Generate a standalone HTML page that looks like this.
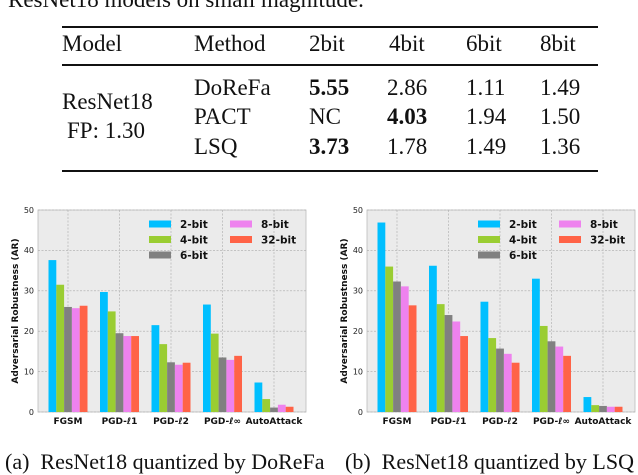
<!DOCTYPE html>
<html><head><meta charset="utf-8">
<style>
body{margin:0;width:638px;height:458px;overflow:hidden;background:#fff;font-family:"Liberation Serif",serif;}
.t{position:absolute;font-size:23px;color:#111;white-space:nowrap;line-height:26px;}
.rule{position:absolute;left:62px;width:536px;background:#111;}
</style></head><body>
<div style="position:relative;width:638px;height:458px;">
<div class="t" style="left:8px;top:-13px;">ResNet18 models on small magnitude.</div>
<div class="rule" style="top:26px;height:2px;"></div>
<div class="rule" style="top:64px;height:1.5px;"></div>
<div class="rule" style="top:170px;height:2px;"></div>
<div>
<div class="t" style="left:62px;top:31px;">Model</div>
<div class="t" style="left:194px;top:31px;">Method</div>
<div class="t" style="left:309px;top:31px;">2bit</div>
<div class="t" style="left:389px;top:31px;">4bit</div>
<div class="t" style="left:466px;top:31px;">6bit</div>
<div class="t" style="left:540px;top:31px;">8bit</div>
<div class="t" style="left:62px;top:89px;">ResNet18</div>
<div class="t" style="left:67px;top:118px;">FP: 1.30</div>
<div class="t" style="left:194px;top:75px;">DoReFa</div>
<div class="t" style="left:194px;top:104px;">PACT</div>
<div class="t" style="left:194px;top:134px;">LSQ</div>
<div class="t" style="left:309px;top:75px;font-weight:bold">5.55</div>
<div class="t" style="left:387px;top:75px;">2.86</div>
<div class="t" style="left:466px;top:75px;">1.11</div>
<div class="t" style="left:540px;top:75px;">1.49</div>
<div class="t" style="left:309px;top:104px;">NC</div>
<div class="t" style="left:387px;top:104px;font-weight:bold">4.03</div>
<div class="t" style="left:466px;top:104px;">1.94</div>
<div class="t" style="left:540px;top:104px;">1.50</div>
<div class="t" style="left:309px;top:134px;font-weight:bold">3.73</div>
<div class="t" style="left:387px;top:134px;">1.78</div>
<div class="t" style="left:466px;top:134px;">1.49</div>
<div class="t" style="left:540px;top:134px;">1.36</div>
</div>
<svg id="charts" width="638" height="458" style="position:absolute;left:0;top:0"></svg>
<div class="t" style="left:5px;top:449px;font-size:22px;">(a)&nbsp; ResNet18 quantized by DoReFa</div>
<div class="t" style="left:345px;top:449px;font-size:22px;">(b)&nbsp; ResNet18 quantized by LSQ</div>
</div>
<script>
const categories=["FGSM","PGD-ℓ1","PGD-ℓ2","PGD-ℓ∞","AutoAttack"];
const seriesNames=["2-bit","4-bit","6-bit","8-bit","32-bit"];
const colors=["#00bfff","#9acd32","#808080","#ee82ee","#ff6347"];
const yTicks=[0,10,20,30,40,50];
const doreFa2=[37.6,29.7,21.5,26.6,7.3];
const doreFa4=[31.5,24.9,16.8,19.4,3.2];
const doreFa6=[26.0,19.5,12.3,13.5,1.1];
const doreFa8=[25.7,18.8,11.7,12.9,1.8];
const doreFa32=[26.3,18.8,12.2,13.9,1.3];
const lsq2=[46.9,36.2,27.3,33.0,3.7];
const lsq4=[36.0,26.7,18.3,21.3,1.7];
const lsq6=[32.3,24.0,15.7,17.5,1.5];
const lsq8=[31.1,22.4,14.4,16.2,1.3];
const lsq32=[26.4,18.8,12.2,13.9,1.3];
const NS="http://www.w3.org/2000/svg";
const svg=document.getElementById('charts');
function mk(tag,attrs,parent){const e=document.createElementNS(NS,tag);for(const k in attrs)e.setAttribute(k,attrs[k]);(parent||svg).appendChild(e);return e;}
function chart(x0,name,series){
  const x1=x0+268,yTop=210,yBot=412;
  const g=mk('g',{});
  
  
  const y=v=>yBot-(v/50)*(yBot-yTop);
  const cx=i=>x0+30+i*51.5;
  const bw=7.8;
  const bg=mk('rect',{x:x0,y:yTop,width:x1-x0,height:yBot-yTop,fill:'#ebebeb',stroke:'#bbb','stroke-width':0.8},g);
  
  
  yTicks.forEach(t=>{
    const gl=mk('line',{x1:x0,x2:x1,y1:y(t),y2:y(t),stroke:'#aaa','stroke-width':0.6,'stroke-dasharray':'2,1.5'},g);
    
    
    const tl=mk('text',{x:x0-4,y:y(t)+2.8,'font-size':8,'text-anchor':'end','font-family':'DejaVu Sans, sans-serif',fill:'#222'},g);
    tl.textContent=t;
    
    
  });
  categories.forEach((c,i)=>{
    const gl=mk('line',{x1:cx(i),x2:cx(i),y1:yTop,y2:yBot,stroke:'#aaa','stroke-width':0.6,'stroke-dasharray':'2,1.5'},g);
    
    
  });
  categories.forEach((c,i)=>{
    series.forEach((s,j)=>{
      const v=s[i];
      const b=mk('rect',{x:cx(i)+(j-2.5)*bw,y:y(v),width:bw,height:yBot-y(v),fill:colors[j]},g);
      
      
    });
    const tl=mk('text',{x:cx(i),y:yBot+12,'font-size':9,'font-weight':'bold','text-anchor':'middle','font-family':'DejaVu Sans, sans-serif',fill:'#111'},g);
    tl.textContent=c;
    
    
  });
  const yl=mk('text',{x:0,y:0,'font-size':9,'font-weight':'bold','text-anchor':'middle','font-family':'DejaVu Sans, sans-serif',fill:'#111',transform:`translate(${x0-20},${(yTop+yBot)/2}) rotate(-90)`},g);
  yl.textContent='Adversarial Robustness (AR)';
  
  
  const pos=[[0,0],[0,1],[0,2],[1,0],[1,1]];
  seriesNames.forEach((n,j)=>{
    const lx=x0+111+pos[j][0]*81, ly=224+pos[j][1]*15.5;
    const sw=mk('rect',{x:lx,y:ly-3.5,width:22,height:7,fill:colors[j]},g);
    
    
    const lt=mk('text',{x:lx+31,y:ly+4,'font-size':10.5,'font-weight':'bold','font-family':'DejaVu Sans, sans-serif',fill:'#111'},g);
    lt.textContent=n;
    
    
  });
}
chart(38,'chart-dorefa',[doreFa2,doreFa4,doreFa6,doreFa8,doreFa32]);
chart(367,'chart-lsq',[lsq2,lsq4,lsq6,lsq8,lsq32]);
</script>
</body></html>
